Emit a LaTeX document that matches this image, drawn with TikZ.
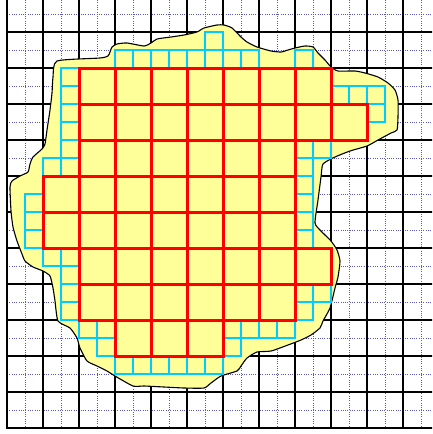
\documentclass[tikz,border=0pt]{standalone}
\definecolor{blobyellow}{RGB}{255,255,153}
\definecolor{gridblue}{RGB}{90,90,180}
\definecolor{cellcyan}{RGB}{0,204,255}
\begin{document}
\begin{tikzpicture}[x=1pt,y=-1pt,
  majorline/.style={line width=2.3pt,black,line cap=rect},
  minorline/.style={line width=1pt,gridblue,dash pattern=on 1pt off 1.3pt},
  blob/.style={fill=blobyellow,draw=black,line width=1.1pt},
  redcell/.style={draw=red,line width=3pt},
  cyancell/.style={draw=cellcyan,line width=2pt}]
\useasboundingbox (0,0) rectangle (432,434);
\begin{scope}
\clip (0,0) rectangle (432,434);
\foreach \i in {0,...,11} { \draw[minorline] (25+36*\i,0) -- (25+36*\i,428); }
\foreach \j in {0,...,11} { \draw[minorline] (7,14+36*\j) -- (432,14+36*\j); }
\foreach \i in {0,...,12} { \draw[majorline] (7+36*\i,-5) -- (7+36*\i,428); }
\foreach \j in {1,...,12} { \draw[majorline] (7,-4+36*\j) -- (440,-4+36*\j); }
\end{scope}
\draw[blob] plot[smooth cycle, tension=0.35] coordinates {
 (57,61) (100,58) (108,56) (110,52) (112,47) (117,44) (127,43) (144,46)
 (151,43) (157,39) (171,37) (184,35) (197,32) (204,28) (217,25) (224,25)
 (232,28) (241,37) (247,42) (257,47) (271,51) (281,52) (288,50) (295,48)
 (305,46) (313,47) (318,53) (325,60) (331,67) (338,71) (355,71) (365,73)
 (378,77) (388,83) (395,90) (398,100) (398,117) (397,130) (391,133) (378,140)
 (367,146) (350,151) (335,157) (323,164) (321,177) (318,200) (315,223) (321,231)
 (331,241) (337,250) (340,261) (338,277) (335,288) (330,308) (323,321) (320,328)
 (311,335) (301,340) (288,345) (271,351) (257,352) (247,358) (241,366) (237,371)
 (221,376) (211,383) (204,388) (184,388) (164,387) (144,386) (133,386) (115,376)
 (107,371) (97,366) (87,361) (80,348) (77,338) (70,328) (58,321) (55,301)
 (53,288) (50,276) (43,271) (33,267) (25,261) (22,254) (17,241) (13,227)
 (11,211) (10,187) (12,181) (20,176) (28,172) (30,164) (33,157) (42,149)
 (45,144) (47,130) (50,110) (52,93) (53,77)};
\foreach \hy/\a/\b in {2/11/11,3/6/13,3/16/16,4/3/3,5/3/3,5/18/20,6/3/3,6/20/20,
  7/3/3,8/3/3,8/16/17,9/2/3,9/16/16,10/16/16,11/1/1,11/16/16,12/1/1,12/16/16,
  13/1/1,13/16/16,14/2/3,15/3/3,16/3/3,16/16/17,17/3/3,17/16/16,18/4/5,18/12/15,
  19/5/5,19/12/12,20/6/11}
  \foreach \hx in {\a,...,\b}
    \draw[cyancell] (7+18*\hx,-4+18*\hy) rectangle ++(18,18);
\foreach \r/\a/\b in {2/2/8,3/2/9,4/2/7,5/1/7,6/1/7,7/2/8,8/2/7,9/3/5}
  \foreach \c in {\a,...,\b}
    \draw[redcell] (7+36*\c,-4+36*\r) rectangle ++(36,36);
\end{tikzpicture}
\end{document}
